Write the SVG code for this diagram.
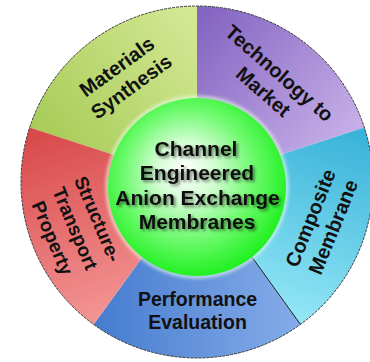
<svg xmlns="http://www.w3.org/2000/svg" width="370" height="362" viewBox="0 0 370 362">
  <defs>
    <linearGradient id="gMaterials" gradientUnits="userSpaceOnUse" x1="40" y1="140" x2="190" y2="20">
      <stop offset="0" stop-color="#a7cb57"/>
      <stop offset="1" stop-color="#d3e793"/>
    </linearGradient>
    <linearGradient id="gMarket" gradientUnits="userSpaceOnUse" x1="205" y1="15" x2="350" y2="140">
      <stop offset="0" stop-color="#8565c2"/>
      <stop offset="1" stop-color="#c7b0e8"/>
    </linearGradient>
    <linearGradient id="gComposite" gradientUnits="userSpaceOnUse" x1="360" y1="130" x2="300" y2="320">
      <stop offset="0" stop-color="#38b2d8"/>
      <stop offset="1" stop-color="#92e6f6"/>
    </linearGradient>
    <linearGradient id="gPerformance" gradientUnits="userSpaceOnUse" x1="95" y1="320" x2="300" y2="320">
      <stop offset="0" stop-color="#467ccf"/>
      <stop offset="1" stop-color="#85ace9"/>
    </linearGradient>
    <linearGradient id="gStructure" gradientUnits="userSpaceOnUse" x1="30" y1="130" x2="95" y2="320">
      <stop offset="0" stop-color="#d84848"/>
      <stop offset="1" stop-color="#f39494"/>
    </linearGradient>
    <radialGradient id="gSphere" cx="0.47" cy="0.45" r="0.56" fx="0.42" fy="0.4">
      <stop offset="0" stop-color="#ffffff"/>
      <stop offset="0.3" stop-color="#d2fdd2"/>
      <stop offset="0.66" stop-color="#6cfa6c"/>
      <stop offset="1" stop-color="#1ef01e"/>
    </radialGradient>
    <filter id="textShadow" x="-10%" y="-20%" width="120%" height="140%">
      <feGaussianBlur in="SourceAlpha" stdDeviation="1.6"/>
      <feOffset dx="1.5" dy="1.5" result="blur"/>
      <feComponentTransfer><feFuncA type="linear" slope="0.5"/></feComponentTransfer>
      <feMerge><feMergeNode/><feMergeNode in="SourceGraphic"/></feMerge>
    </filter>
    <filter id="soft" x="-10%" y="-10%" width="120%" height="120%">
      <feGaussianBlur stdDeviation="1.5"/>
    </filter>
  </defs>
  <style>
    .sector { stroke: none; }
    .label { font-family: "Liberation Sans", Arial, sans-serif; font-weight: bold; font-size: 20px; fill: #111; text-anchor: middle; }
    .core { font-family: "Liberation Sans", Arial, sans-serif; font-weight: bold; font-size: 21px; fill: #111; text-anchor: middle; }
    .rim { fill: none; stroke: #3a3a3a; stroke-width: 1; stroke-dasharray: 3 1; }
    .divider { stroke: #1a1a1a; stroke-width: 1; }
  </style>

  <!-- ring of five 72-degree sectors around centre (197,182), r = 176 -->
  <g id="materials-synthesis">
    <path class="sector" fill="url(#gMaterials)" d="M197,182 L29.61,127.61 A176,176 0 0,1 197,6 Z"/>
    <g transform="translate(128,82) rotate(-36)">
      <text class="label" x="0" y="-12">Materials</text>
      <text class="label" x="0" y="12.5">Synthesis</text>
    </g>
  </g>

  <g id="technology-to-market">
    <path class="sector" fill="url(#gMarket)" d="M197,182 L197,6 A176,176 0 0,1 364.39,127.61 Z"/>
    <g transform="translate(267,87.5) rotate(41)">
      <text class="label" x="0" y="-12">Technology to</text>
      <text class="label" x="0" y="12.5">Market</text>
    </g>
  </g>

  <g id="composite-membrane">
    <path class="sector" fill="url(#gComposite)" d="M197,182 L364.39,127.61 A176,176 0 0,1 300.45,324.39 Z"/>
    <g transform="translate(328,225) rotate(-68)">
      <text class="label" x="0" y="-12">Composite</text>
      <text class="label" x="0" y="12.5">Membrane</text>
    </g>
  </g>

  <g id="performance-evaluation">
    <path class="sector" fill="url(#gPerformance)" d="M197,182 L300.45,324.39 A176,176 0 0,1 93.55,324.39 Z"/>
    <text class="label" style="font-size:19.5px" x="197.5" y="306">Performance</text>
    <text class="label" style="font-size:19.5px" x="197.5" y="329">Evaluation</text>
  </g>

  <g id="structure-transport-property">
    <path class="sector" fill="url(#gStructure)" d="M197,182 L93.55,324.39 A176,176 0 0,1 29.61,127.61 Z"/>
    <g transform="translate(69,231) rotate(67)">
      <text class="label" style="font-size:19px" x="0" y="-24.5">Structure-</text>
      <text class="label" style="font-size:19px" x="0" y="0">Transport</text>
      <text class="label" style="font-size:19px" x="0" y="24.5">Property</text>
    </g>
  </g>

  <!-- outer rim and sector divider -->
  <g id="connectors">
    <circle class="rim" cx="197" cy="182" r="176"/>
    <line class="divider" x1="249" y1="253" x2="300.45" y2="324.39"/>
  </g>

  <!-- central sphere -->
  <g id="core">
    <circle cx="197" cy="187" r="92" fill="#eaffea" opacity="0.55" filter="url(#soft)"/>
    <circle cx="197" cy="187" r="89" fill="url(#gSphere)"/>
    <g filter="url(#textShadow)">
      <text class="core" x="196" y="155.5">Channel</text>
      <text class="core" x="197" y="180">Engineered</text>
      <text class="core" x="197.5" y="204.5">Anion Exchange</text>
      <text class="core" x="197" y="229">Membranes</text>
    </g>
  </g>
</svg>
